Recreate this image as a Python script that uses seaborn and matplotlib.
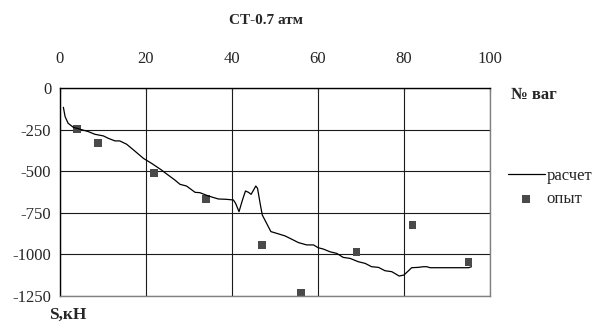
import numpy as np
import pandas as pd
import matplotlib
matplotlib.use('Agg')
import matplotlib.pyplot as plt
import seaborn as sns

# calculated curve ("расчет")
calc_x = [0.9, 1.3, 2.0, 3.2, 4.8, 6.7, 8.2, 10.2, 11.3, 12.9, 14.0, 15.6, 17.5,
          19.5, 21.4, 23.7, 24.5, 26.8, 28.0, 29.5, 31.5, 32.6, 34.6, 36.9, 38.8,
          40.4, 40.9, 41.7, 42.5, 43.2, 43.9, 44.5, 45.0, 45.6, 46.0, 46.6, 47.1,
          48.1, 49.1, 50.4, 52.4, 53.5, 55.5, 57.4, 59.0, 60.1, 61.3, 62.8, 64.4,
          65.9, 67.5, 69.4, 71.0, 72.5, 74.1, 75.6, 77.2, 78.9, 80.0, 81.0, 81.8,
          83.3, 84.5, 85.3, 86.1, 89.9, 95.0, 95.7]
calc_y = [-116, -172, -212, -236, -248, -262, -278, -288, -302, -318, -318, -338, -379,
          -423, -453, -493, -509, -553, -579, -589, -627, -629, -649, -667, -669,
          -673, -693, -743, -673, -619, -627, -639, -617, -589, -603, -693, -763,
          -813, -863, -873, -889, -903, -929, -943, -943, -960, -968, -984, -994,
          -1018, -1024, -1044, -1054, -1074, -1078, -1098, -1104, -1130, -1124, -1100, -1080,
          -1078, -1074, -1074, -1080, -1080, -1080, -1074]

# experiment points ("опыт")
exp_x = [4, 9, 22, 34, 47, 56, 69, 82, 95]
exp_y = [-245, -330, -511, -667, -945, -1230, -986, -825, -1044]

x_ticks = [0, 20, 40, 60, 80, 100]
y_ticks = [0, -250, -500, -750, -1000, -1250]

sns.set_style('white')
plt.rcParams['font.family'] = ['Liberation Serif', 'DejaVu Serif']
plt.rcParams['axes.unicode_minus'] = False

fig = plt.figure(figsize=(5.92, 3.29), dpi=100)
ax = fig.add_axes([59.5 / 592, 1 - 296 / 329, (490 - 59.5) / 592, (296 - 88) / 329])

sns.lineplot(x=calc_x, y=calc_y, ax=ax, color='black', linewidth=0.9,
             sort=False, label='расчет')
sns.scatterplot(x=exp_x, y=exp_y, ax=ax, color='#4a4a4a', marker='s', s=32,
                edgecolor='none', label='опыт')

ax.set_xlim(0, 100)
ax.set_ylim(-1250, 0)
ax.set_xticks(x_ticks)
ax.set_yticks(y_ticks)
ax.xaxis.tick_top()
ax.tick_params(axis='x', labelsize=12, length=3, direction='in', pad=15)
ax.tick_params(axis='y', labelsize=12, length=3, direction='out', pad=3)
ax.grid(True, color='#1a1a1a', linewidth=0.8)
for side in ['left', 'top']:
    ax.spines[side].set_color('black')
    ax.spines[side].set_linewidth(1.0)
for side in ['right', 'bottom']:
    ax.spines[side].set_color('#808080')
    ax.spines[side].set_linewidth(1.0)

ax.legend_.remove()
handles, labels = ax.get_legend_handles_labels()
fig.legend(handles, labels, loc='upper left', bbox_to_anchor=(508 / 592, 1 - 168 / 329),
           frameon=False, fontsize=12, handlelength=2.2, handletextpad=0.12,
           labelspacing=0.44, borderaxespad=0, borderpad=0)

fig.text(266 / 592, 1 - 20 / 329, 'СТ-0.7 атм', ha='center', va='center',
         fontsize=11, fontweight='bold')
fig.text(511 / 592, 1 - 95 / 329, '№ ваг', ha='left', va='center',
         fontsize=12, fontweight='bold')
fig.text(49 / 592, 1 - 315 / 329, 'S,кН', ha='left', va='center',
         fontsize=12.5, fontweight='bold')

fig.savefig('out.png', dpi=100)
